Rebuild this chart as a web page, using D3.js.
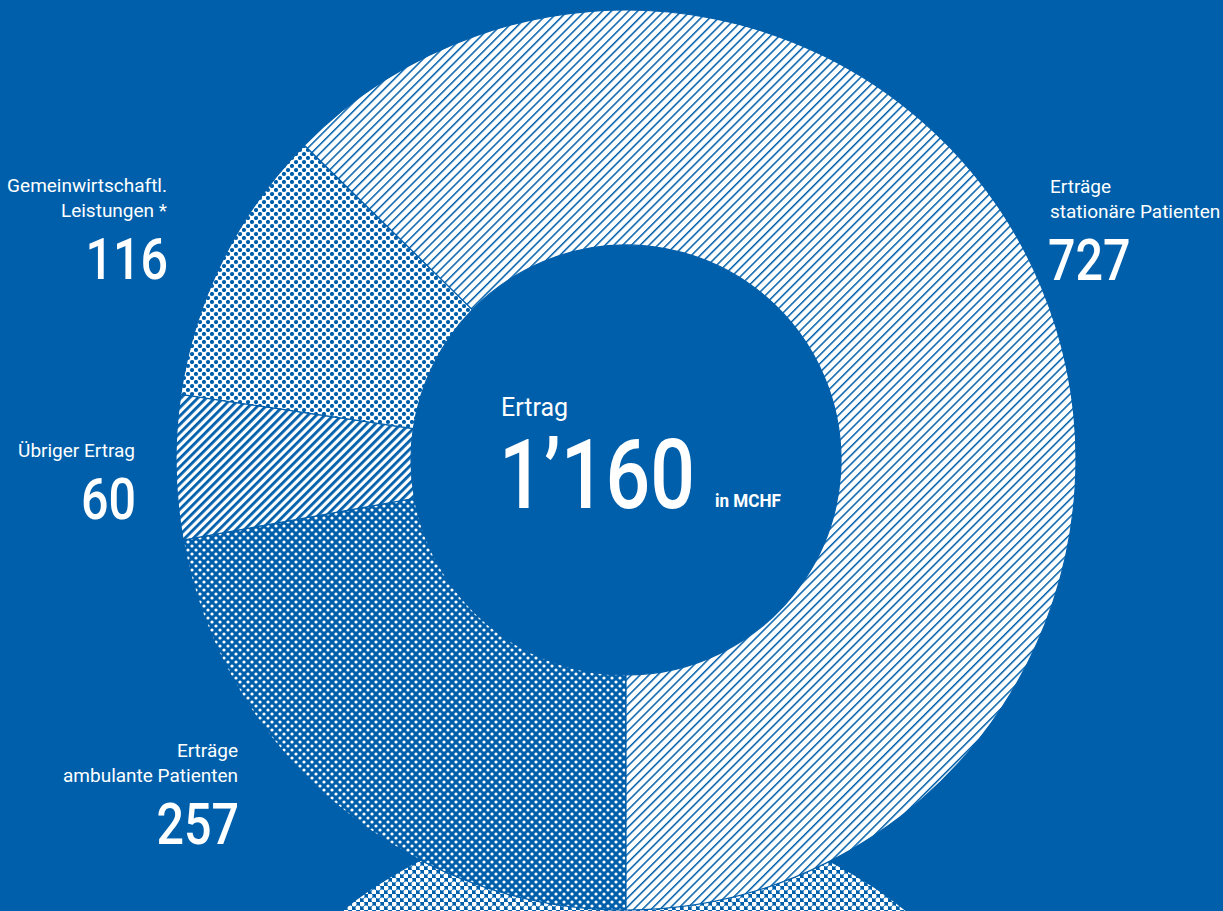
<!DOCTYPE html>
<html>
<head>
<meta charset="utf-8">
<script src="https://cdn.jsdelivr.net/npm/d3@7/dist/d3.min.js"></script>
<style>
  html, body { margin: 0; padding: 0; background: #005fab; }
  svg { display: block; }
  text { font-family: Roboto, "Noto Sans", sans-serif; fill: #fff; }
</style>
</head>
<body>
<svg id="chart" width="1223" height="911"></svg>
<script>
// Revenue breakdown (in MCHF), drawn clockwise from 6 o'clock
const categories = ["ambulant", "uebrig", "gemein", "stationaer"];
const values = [257, 60, 116, 727];
const patterns = ["dotsWhiteSmall", "stripesBold", "dotsBlue", "stripesThin"];
const labelLines = [
  ["Erträge", "ambulante Patienten"],
  ["Übriger Ertrag"],
  ["Gemeinwirtschaftl.", "Leistungen *"],
  ["Erträge", "stationäre Patienten"]
];
const valueLabels = ["257", "60", "116", "727"];
const totalLabel = "1’160";
const centerTitle = "Ertrag";
const unitLabel = "in MCHF";

// Following ring (cost side), only its upper rim shows
const nextRingValues = [1, 1];
const nextRingPatterns = ["dotsWhiteLarge", "dotsWhiteMedium"];

const BLUE = "#005fab";
const WHITE = "#ffffff";

const svg = d3.select("#chart");
const W = 1223, H = 911;
svg.append("rect").attr("width", W).attr("height", H).attr("fill", BLUE);

// ---- fill patterns ----
const defs = svg.append("defs");

function stripes(id, period, lineW) {
  const p = defs.append("pattern").attr("id", id)
    .attr("patternUnits", "userSpaceOnUse")
    .attr("width", period).attr("height", period)
    .attr("patternTransform", "rotate(45)");
  p.append("rect").attr("width", period).attr("height", period).attr("fill", WHITE);
  p.append("rect").attr("x", 0).attr("width", lineW).attr("height", period).attr("fill", BLUE);
}
function dots(id, cell, radius, bg, fg) {
  const p = defs.append("pattern").attr("id", id)
    .attr("patternUnits", "userSpaceOnUse")
    .attr("width", cell).attr("height", cell);
  p.append("rect").attr("width", cell).attr("height", cell).attr("fill", bg);
  [[cell / 4, cell / 4], [cell * 3 / 4, cell * 3 / 4]].forEach(([x, y]) => {
    p.append("circle").attr("cx", x).attr("cy", y).attr("r", radius).attr("fill", fg);
  });
}
stripes("stripesThin", 6.2, 1.5);
stripes("stripesBold", 6, 2.8);
dots("dotsBlue", 8, 2.1, WHITE, BLUE);
dots("dotsWhiteSmall", 8, 1.6, BLUE, WHITE);
dots("dotsWhiteLarge", 8, 2.5, BLUE, WHITE);
dots("dotsWhiteMedium", 8, 2.1, BLUE, WHITE);

const cx = 626, cy = 460, R = 450, r0 = 215;

// ---- following ring (behind) ----
const nextPie = d3.pie().sort(null).startAngle(-Math.PI / 2).endAngle(Math.PI * 1.5);
const nextArc = d3.arc().innerRadius(r0).outerRadius(R);
svg.append("g").attr("transform", `translate(${cx - 2},${cy + 802})`)
  .selectAll("path").data(nextPie(nextRingValues)).join("path")
  .attr("d", nextArc)
  .attr("fill", (d, i) => `url(#${nextRingPatterns[i]})`);

// ---- main donut ----
const pie = d3.pie().sort(null).startAngle(Math.PI).endAngle(Math.PI * 3).value(d => d);
const arc = d3.arc().innerRadius(r0).outerRadius(R);
const g = svg.append("g").attr("transform", `translate(${cx},${cy})`);
g.selectAll("path").data(pie(values)).join("path")
  .attr("d", arc)
  .attr("fill", (d, i) => `url(#${patterns[i]})`)
  .attr("stroke", BLUE).attr("stroke-width", 1.2);

// text helper: horizontally condensed glyphs via scaleX
function label(x, y, str, size, anchor, sx, weight) {
  return svg.append("text")
    .attr("transform", `translate(${x},${y}) scale(${sx},1)`)
    .attr("text-anchor", anchor)
    .attr("font-size", size)
    .attr("font-weight", weight || "normal")
    .text(str);
}

// ---- labels ----
const labelPos = [
  { x: 238, y: 757, anchor: "end" },
  { x: 135, y: 457, anchor: "end" },
  { x: 167, y: 192, anchor: "end" },
  { x: 1050, y: 193, anchor: "start" }
];
const lineH = 25;
labelPos.forEach((p, i) => {
  const lines = labelLines[i];
  lines.forEach((ln, k) => label(p.x, p.y + k * lineH, ln, 19, p.anchor, 1));
  label(p.x + (p.anchor === "start" ? -2 : 1), p.y + (lines.length - 1) * lineH + 62,
        valueLabels[i], 57, p.anchor, 0.85, 500);
});

// ---- centre ----
label(501, 416, centerTitle, 25, "start", 1);
label(499, 508, totalLabel, 96, "start", 0.82, 500);
label(715, 507, unitLabel, 18, "start", 0.95, "bold");
</script>
</body>
</html>
